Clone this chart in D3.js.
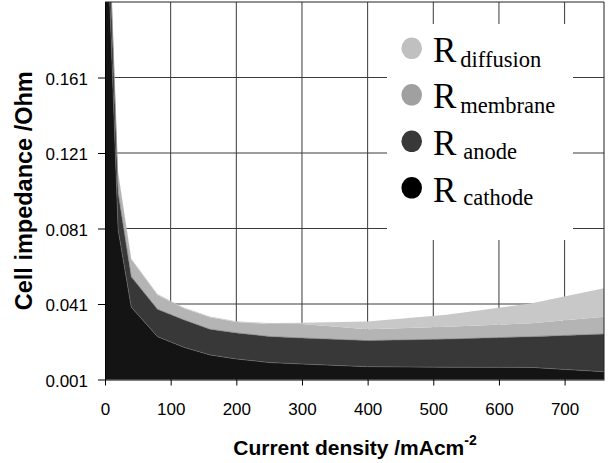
<!DOCTYPE html>
<html>
<head>
<meta charset="utf-8">
<script src="https://cdn.jsdelivr.net/npm/d3@7/dist/d3.min.js"></script>
<style>
  html, body { margin: 0; padding: 0; background: #fff; }
  svg { display: block; }
</style>
</head>
<body>
<svg id="chart" width="608" height="463"></svg>
<script>
// Current density (mA cm^-2) and the impedance contributions (Ohm) at each point
const currentDensity = [0, 20, 40, 80, 120, 160, 200, 250, 300, 400, 520, 650, 760];
const rCathode   = [0.270, 0.0803, 0.0393, 0.0237, 0.0181, 0.0140, 0.0119, 0.0100, 0.0092, 0.0078, 0.0075, 0.0074, 0.0051];
const rAnode     = [0.025, 0.0196, 0.0162, 0.0145, 0.0145, 0.0136, 0.0138, 0.0138, 0.0138, 0.0138, 0.0149, 0.0163, 0.0200];
const rMembrane  = [0.012, 0.0106, 0.0092, 0.0076, 0.0062, 0.0064, 0.0058, 0.0066, 0.0074, 0.0060, 0.0065, 0.0071, 0.0092];
const rDiffusion = [0.0005, 0.0005, 0.0004, 0.0005, 0.0004, 0.0004, 0.0003, 0.0005, 0.0007, 0.0041, 0.0064, 0.0106, 0.0151];

const seriesKeys   = ["cathode", "anode", "membrane", "diffusion"];
const seriesColors = { cathode: "#141414", anode: "#383838", membrane: "#b4b4b4", diffusion: "#c8c8c8" };

const xTicks = [0, 100, 200, 300, 400, 500, 600, 700];
const yTicks = [0.001, 0.041, 0.081, 0.121, 0.161];

// legend entries, top to bottom
const legendItems = [
  { sub: "diffusion", color: "#c0c0c0", gap: 4, drop: 5 },
  { sub: "membrane",  color: "#a0a0a0", gap: 4, drop: 4.4 },
  { sub: "anode",     color: "#383838", gap: 7, drop: 3.4 },
  { sub: "cathode",   color: "#000000", gap: 7, drop: 3.6 }
];

const rows = currentDensity.map((c, i) => ({
  current: c,
  cathode: rCathode[i],
  anode: rAnode[i],
  membrane: rMembrane[i],
  diffusion: rDiffusion[i]
}));

const svg = d3.select("#chart");
const plot = { left: 105, right: 604, top: 2, bottom: 379.5 };

const x = d3.scaleLinear().domain([0, 760]).range([plot.left, plot.right]);
const y = d3.scaleLinear().domain([0.001, 0.201]).range([plot.bottom, plot.top]);

const sansFont = "'Liberation Sans', Arial, sans-serif";
const serifFont = "'Liberation Serif', 'Times New Roman', serif";

svg.append("defs").append("clipPath").attr("id", "plotClip")
  .append("rect")
  .attr("x", plot.left).attr("y", plot.top)
  .attr("width", plot.right - plot.left).attr("height", plot.bottom - plot.top);

// grid
const grid = svg.append("g").attr("stroke", "#3a3a3a").attr("stroke-width", 1);
grid.selectAll("line.h").data(yTicks.slice(1)).join("line")
  .attr("class", "h")
  .attr("x1", plot.left).attr("x2", plot.right)
  .attr("y1", d => y(d)).attr("y2", d => y(d));
grid.selectAll("line.v").data(xTicks.slice(1)).join("line")
  .attr("class", "v")
  .attr("x1", d => x(d)).attr("x2", d => x(d))
  .attr("y1", plot.top).attr("y2", plot.bottom);

// legend background hides the grid behind it
svg.append("rect")
  .attr("x", 387).attr("y", 24).attr("width", 186).attr("height", 216)
  .attr("fill", "#fff");

// stacked areas
const stacked = d3.stack().keys(seriesKeys)(rows);
const area = d3.area()
  .x(d => x(d.data.current))
  .y0(d => y(d[0]))
  .y1(d => y(d[1]));
const topLine = d3.line()
  .x(d => x(d.data.current))
  .y(d => y(d[1]));

const areas = svg.append("g").attr("clip-path", "url(#plotClip)");
areas.selectAll("path.layer").data(stacked).join("path")
  .attr("class", "layer")
  .attr("fill", d => seriesColors[d.key])
  .attr("d", area);
areas.selectAll("path.edge").data(stacked.filter(s => s.key === "cathode" || s.key === "anode")).join("path")
  .attr("class", "edge")
  .attr("fill", "none")
  .attr("stroke", "#6e6e6e")
  .attr("stroke-width", 0.6)
  .attr("d", topLine);

// frame on top and right
svg.append("path")
  .attr("d", `M${plot.left},${plot.top}H${plot.right}V${plot.bottom}`)
  .attr("fill", "none").attr("stroke", "#222").attr("stroke-width", 1);

// axes
const yAxis = svg.append("g")
  .attr("transform", `translate(${plot.left},0)`)
  .call(d3.axisLeft(y).tickValues(yTicks).tickFormat(d3.format(".3f")).tickSize(7).tickSizeOuter(0).tickPadding(10));
const xAxis = svg.append("g")
  .attr("transform", `translate(0,${plot.bottom})`)
  .call(d3.axisBottom(x).tickValues(xTicks).tickFormat(d3.format("d")).tickSize(6).tickSizeOuter(0).tickPadding(17));
[yAxis, xAxis].forEach(a => {
  a.selectAll("text").attr("font-family", sansFont).attr("font-size", 17).attr("fill", "#000");
  a.selectAll("line").attr("stroke", "#000");
  a.select(".domain").attr("stroke", "#000");
});
yAxis.selectAll("text").attr("dy", "0.4em");

// axis titles
svg.append("text")
  .attr("transform", `translate(31.5,${(plot.top + plot.bottom) / 2}) rotate(-90)`)
  .attr("text-anchor", "middle")
  .attr("font-family", sansFont).attr("font-weight", "bold").attr("font-size", 23.5)
  .text("Cell impedance /Ohm");

const xTitle = svg.append("text")
  .attr("x", 355).attr("y", 455)
  .attr("text-anchor", "middle")
  .attr("font-family", sansFont).attr("font-weight", "bold").attr("font-size", 21);
xTitle.append("tspan").text("Current density /mAcm");
xTitle.append("tspan").attr("dy", -10).attr("font-size", 14).text("-2");

// legend
const legend = svg.append("g");
legendItems.forEach((item, i) => {
  legend.append("ellipse")
    .attr("cx", 411.7).attr("cy", 48.3 + i * 46.5)
    .attr("rx", 10.3).attr("ry", 10.8)
    .attr("fill", item.color);
  const t = legend.append("text")
    .attr("x", 433).attr("y", 61.7 + i * 46.7)
    .attr("font-family", serifFont).attr("fill", "#000");
  t.append("tspan").attr("font-size", 35).text("R");
  t.append("tspan").attr("font-size", 22.5).attr("dx", item.gap).attr("dy", item.drop).text(item.sub);
});
</script>
</body>
</html>
